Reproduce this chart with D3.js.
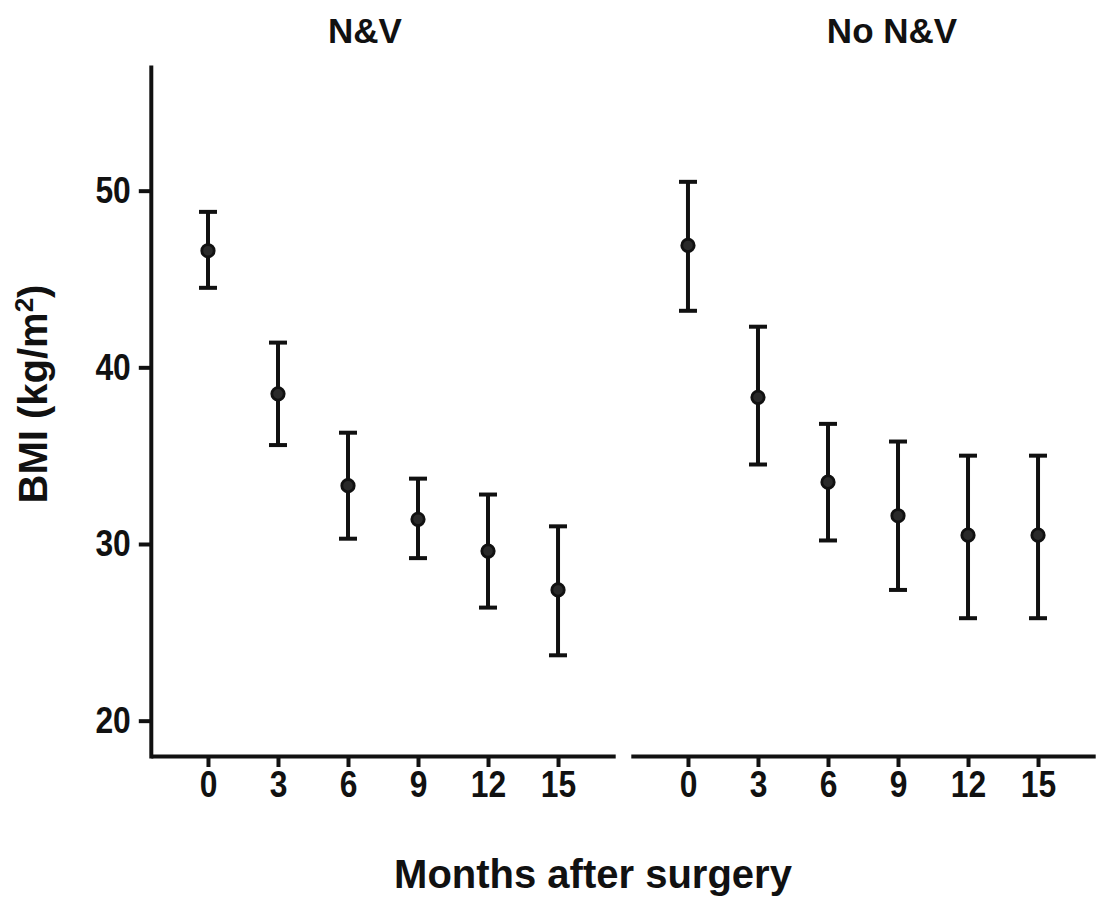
<!DOCTYPE html>
<html>
<head>
<meta charset="utf-8">
<script src="https://cdn.jsdelivr.net/npm/d3@7"></script>
<style>
  html, body { margin: 0; padding: 0; background: #fff; }
  svg { display: block; }
  text { font-family: "Liberation Sans", Arial, sans-serif; font-weight: bold; fill: #111; }
  .tick text { font-family: "Liberation Sans", Arial, sans-serif; font-size: 37px; font-weight: bold; fill: #111; }
</style>
</head>
<body>
<svg id="chart" width="1096" height="899"></svg>
<script>
// ---- data ----
const panels = ["N&V", "No N&V"];
const months = [0, 3, 6, 9, 12, 15];
const yTicks = [20, 30, 40, 50];

const nvMean  = [46.6, 38.5, 33.3, 31.4, 29.6, 27.4];
const nvUpper = [48.8, 41.4, 36.3, 33.7, 32.8, 31.0];
const nvLower = [44.5, 35.6, 30.3, 29.2, 26.4, 23.7];

const noMean  = [46.9, 38.3, 33.5, 31.6, 30.5, 30.5];
const noUpper = [50.5, 42.3, 36.8, 35.8, 35.0, 35.0];
const noLower = [43.2, 34.5, 30.2, 27.4, 25.8, 25.8];

const xLabel = "Months after surgery";

// ---- layout ----
const svg = d3.select("#chart");
const y = d3.scaleLinear().domain([18, 57]).range([756, 67]);
const xDomain = [-2.45, 17.45];
const panelRanges = [[150.8, 615.2], [630.8, 1095.2]];
const titleX = [365, 892];
const squeeze = 0.86;

const seriesList = [
  { mean: nvMean, upper: nvUpper, lower: nvLower },
  { mean: noMean, upper: noUpper, lower: noLower }
];

const stroke = "#111";
const lw = 4;

panels.forEach((name, p) => {
  const x = d3.scaleLinear().domain(xDomain).range(panelRanges[p]);
  const g = svg.append("g");

  // x axis
  const xa = g.append("g")
    .attr("transform", `translate(0,${y(18)})`)
    .call(d3.axisBottom(x).tickValues(months).tickSize(11).tickSizeOuter(0).tickPadding(4).tickFormat(d3.format("d")));
  xa.select(".domain").attr("stroke", stroke).attr("stroke-width", lw);
  xa.selectAll(".tick line").attr("stroke", stroke).attr("stroke-width", lw);
  xa.selectAll(".tick text").attr("transform", `scale(${squeeze},1)`);

  // y axis only on first panel
  if (p === 0) {
    const ya = g.append("g")
      .attr("transform", `translate(${x(xDomain[0])},0)`)
      .call(d3.axisLeft(y).tickValues(yTicks).tickSize(12).tickSizeOuter(0).tickPadding(8));
    ya.select(".domain").attr("stroke", stroke).attr("stroke-width", lw).attr("stroke-linecap", "square");
    ya.selectAll(".tick line").attr("stroke", stroke).attr("stroke-width", lw);
    ya.selectAll(".tick text")
      .attr("x", -20 / squeeze)
      .attr("transform", `scale(${squeeze},1)`);
  }

  // title
  g.append("text")
    .attr("x", titleX[p]).attr("y", 43)
    .attr("text-anchor", "middle")
    .attr("font-size", 35)
    .text(name);

  const s = seriesList[p];
  const data = months.map((m, i) => ({ m, mean: s.mean[i], up: s.upper[i], lo: s.lower[i] }));
  const capW = 9;

  const eb = g.selectAll(".eb").data(data).enter().append("g");
  eb.append("line")
    .attr("x1", d => x(d.m)).attr("x2", d => x(d.m))
    .attr("y1", d => y(d.up)).attr("y2", d => y(d.lo))
    .attr("stroke", stroke).attr("stroke-width", lw);
  eb.append("line")
    .attr("x1", d => x(d.m) - capW).attr("x2", d => x(d.m) + capW)
    .attr("y1", d => y(d.up)).attr("y2", d => y(d.up))
    .attr("stroke", stroke).attr("stroke-width", lw);
  eb.append("line")
    .attr("x1", d => x(d.m) - capW).attr("x2", d => x(d.m) + capW)
    .attr("y1", d => y(d.lo)).attr("y2", d => y(d.lo))
    .attr("stroke", stroke).attr("stroke-width", lw);
  eb.append("circle")
    .attr("cx", d => x(d.m)).attr("cy", d => y(d.mean))
    .attr("r", 6.2)
    .attr("fill", "#2a2a2a").attr("stroke", stroke).attr("stroke-width", 2.8);
});

// axis titles
svg.append("text")
  .attr("x", 593).attr("y", 888)
  .attr("text-anchor", "middle")
  .attr("font-size", 40)
  .text(xLabel);

const yl = svg.append("text")
  .attr("transform", "translate(47,394) rotate(-90)")
  .attr("text-anchor", "middle")
  .attr("font-size", 40);
yl.append("tspan").text("BMI (kg/m");
yl.append("tspan").attr("font-size", 26).attr("dy", -14).text("2");
yl.append("tspan").attr("dy", 14).text(")");
</script>
</body>
</html>
